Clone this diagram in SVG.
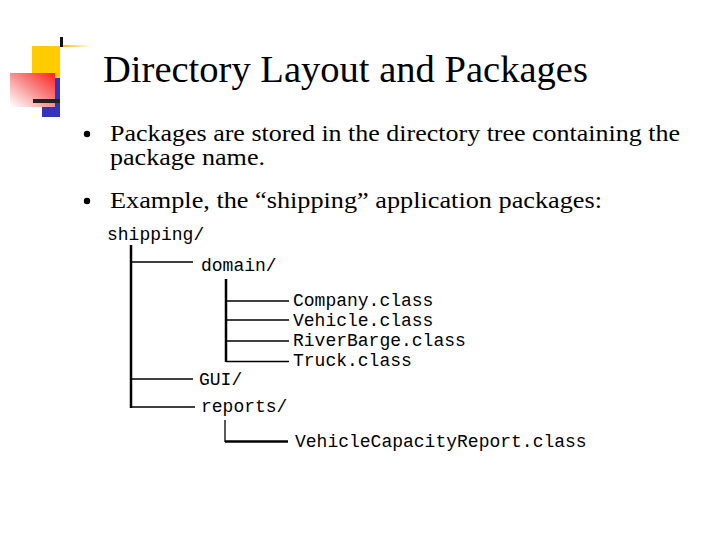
<svg xmlns="http://www.w3.org/2000/svg" width="720" height="540" viewBox="0 0 720 540">
<style>
.title{font-family:"Liberation Serif","Times New Roman",serif;font-size:38px;fill:#000}
.body{font-family:"Liberation Serif","Times New Roman",serif;font-size:24px;fill:#000}
.mono{font-family:"Liberation Mono","Courier New",monospace;font-size:18px;fill:#000}
.thick{stroke:#000;stroke-width:2.5;fill:none}
.thin{stroke:#000;stroke-width:1.3;fill:none}
</style>
<defs>
<linearGradient id="redg" x1="1" y1="0" x2="0" y2="1">
<stop offset="0" stop-color="#ff2020"/>
<stop offset="0.5" stop-color="#f89090"/>
<stop offset="1" stop-color="#ffffff" stop-opacity="0.9"/>
</linearGradient>
<linearGradient id="yelg" x1="0" y1="0" x2="1" y2="0">
<stop offset="0" stop-color="#f5c400"/>
<stop offset="1" stop-color="#ffffff"/>
</linearGradient>
</defs>
<rect width="720" height="540" fill="#fff"/>
<g id="logo">
<rect x="32" y="46" width="28" height="32" fill="#ffcc00"/>
<rect x="42" y="78" width="18" height="39" fill="#3333bb"/>
<rect x="10" y="73" width="45" height="34" fill="url(#redg)"/>
<rect x="60" y="37" width="3" height="10" fill="#111"/>
<rect x="63" y="45" width="28" height="2" fill="url(#yelg)"/>
<rect x="33" y="99" width="27" height="4" fill="#222"/>
</g>
<g id="title">
<text class="title" x="103" y="82" textLength="485" lengthAdjust="spacingAndGlyphs">Directory Layout and Packages</text>
</g>
<g id="bullets">
<circle cx="87" cy="134" r="3.2" fill="#000"/>
<text class="body" x="110" y="141" textLength="570" lengthAdjust="spacingAndGlyphs">Packages are stored in the directory tree containing the</text>
<text class="body" x="110" y="165" textLength="155" lengthAdjust="spacingAndGlyphs">package name.</text>
<circle cx="87" cy="201" r="3.2" fill="#000"/>
<text class="body" x="110" y="208" textLength="492" lengthAdjust="spacingAndGlyphs">Example, the “shipping” application packages:</text>
</g>
<g id="connectors">
<path class="thick" d="M131 245 V408"/>
<path class="thin" d="M131 262 H193"/>
<path class="thin" d="M131 379 H193"/>
<path class="thin" d="M131 407 H195"/>
<path class="thick" d="M226 279 V362"/>
<path class="thin" d="M226 301 H289"/>
<path class="thin" d="M226 320 H289"/>
<path class="thin" d="M226 341 H289"/>
<path class="thin" d="M226 361.5 H289"/>
<path class="thin" d="M225 420 V442"/>
<path class="thick" d="M225 441.5 H288"/>
</g>
<g id="node-shipping"><text class="mono" x="107" y="240">shipping/</text></g>
<g id="node-domain"><text class="mono" x="201" y="271">domain/</text></g>
<g id="node-company"><text class="mono" x="293" y="306">Company.class</text></g>
<g id="node-vehicle"><text class="mono" x="293" y="326">Vehicle.class</text></g>
<g id="node-riverbarge"><text class="mono" x="293" y="346">RiverBarge.class</text></g>
<g id="node-truck"><text class="mono" x="293" y="366">Truck.class</text></g>
<g id="node-gui"><text class="mono" x="199" y="385">GUI/</text></g>
<g id="node-reports"><text class="mono" x="201" y="412">reports/</text></g>
<g id="node-vcr"><text class="mono" x="295" y="447">VehicleCapacityReport.class</text></g>
</svg>
